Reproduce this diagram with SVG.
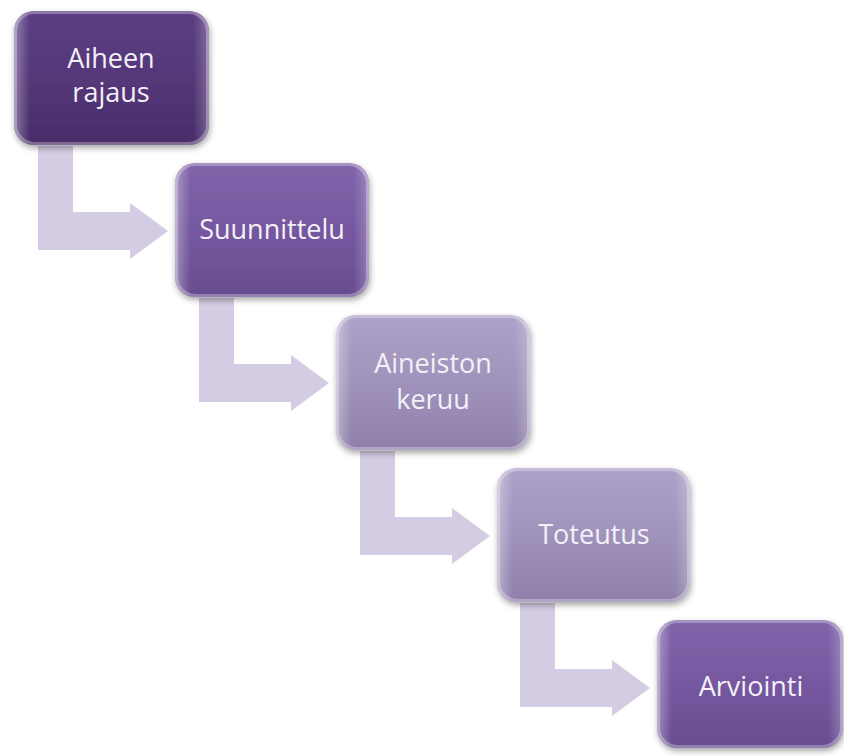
<svg xmlns="http://www.w3.org/2000/svg" width="844" height="756" viewBox="0 0 844 756">
<style>
.lbl{font-family:"Open Sans","Liberation Sans",sans-serif;font-size:27px;fill:#f4f0f8;text-anchor:middle}
.arrow{fill:#d3cce2}
.edge{fill:none;stroke:#ffffff;stroke-opacity:0.3;stroke-width:3}
</style>
<defs>
<linearGradient id="gDark" x1="0" y1="0" x2="0" y2="1">
<stop offset="0" stop-color="#5c3e83"/><stop offset="0.5" stop-color="#553879"/><stop offset="1" stop-color="#482c69"/>
</linearGradient>
<linearGradient id="gMid" x1="0" y1="0" x2="0" y2="1">
<stop offset="0" stop-color="#8064aa"/><stop offset="0.5" stop-color="#7558a0"/><stop offset="1" stop-color="#684c90"/>
</linearGradient>
<linearGradient id="gLight" x1="0" y1="0" x2="0" y2="1">
<stop offset="0" stop-color="#afa2c8"/><stop offset="0.5" stop-color="#a093bb"/><stop offset="1" stop-color="#8f80ab"/>
</linearGradient>
<linearGradient id="gSide" x1="0" y1="0" x2="1" y2="0">
<stop offset="0" stop-color="#ffffff" stop-opacity="0.35"/><stop offset="0.08" stop-color="#ffffff" stop-opacity="0"/><stop offset="0.92" stop-color="#ffffff" stop-opacity="0"/><stop offset="1" stop-color="#ffffff" stop-opacity="0.25"/>
</linearGradient>
<filter id="sh" x="-10%" y="-10%" width="125%" height="130%">
<feDropShadow dx="1" dy="3" stdDeviation="3" flood-color="#000" flood-opacity="0.35"/>
</filter>
</defs>
<g id="connectors">
<path class="arrow" d="M38 146 H73 V212 H130 V203 L168 231 L130 259 V250 H38 Z"/>
<path class="arrow" d="M199 298 H234 V364 H291 V355 L329 383 L291 411 V402 H199 Z"/>
<path class="arrow" d="M360 451 H395 V517 H452 V508 L490 536 L452 564 V555 H360 Z"/>
<path class="arrow" d="M520 603 H555 V669 H612 V660 L650 688 L612 716 V707 H520 Z"/>
</g>
<g id="node1">
<rect x="14" y="11" width="195" height="134" rx="20" fill="url(#gDark)" filter="url(#sh)"/>
<rect x="14" y="11" width="195" height="134" rx="20" fill="url(#gSide)"/>
<rect x="15.5" y="12.5" width="192" height="131" rx="19" class="edge"/>
<text class="lbl" x="111" y="68">Aiheen</text>
<text class="lbl" x="111" y="102">rajaus</text>
</g>
<g id="node2">
<rect x="175" y="163" width="194" height="134" rx="20" fill="url(#gMid)" filter="url(#sh)"/>
<rect x="175" y="163" width="194" height="134" rx="20" fill="url(#gSide)"/>
<rect x="176.5" y="164.5" width="191" height="131" rx="19" class="edge"/>
<text class="lbl" x="272" y="239">Suunnittelu</text>
</g>
<g id="node3">
<rect x="336" y="315" width="194" height="135" rx="20" fill="url(#gLight)" filter="url(#sh)"/>
<rect x="336" y="315" width="194" height="135" rx="20" fill="url(#gSide)"/>
<rect x="337.5" y="316.5" width="191" height="132" rx="19" class="edge"/>
<text class="lbl" x="433" y="373">Aineiston</text>
<text class="lbl" x="433" y="409">keruu</text>
</g>
<g id="node4">
<rect x="497" y="468" width="193" height="134" rx="20" fill="url(#gLight)" filter="url(#sh)"/>
<rect x="497" y="468" width="193" height="134" rx="20" fill="url(#gSide)"/>
<rect x="498.5" y="469.5" width="190" height="131" rx="19" class="edge"/>
<text class="lbl" x="594" y="544">Toteutus</text>
</g>
<g id="node5">
<rect x="657" y="620" width="186" height="128" rx="20" fill="url(#gMid)" filter="url(#sh)"/>
<rect x="657" y="620" width="186" height="128" rx="20" fill="url(#gSide)"/>
<rect x="658.5" y="621.5" width="183" height="125" rx="19" class="edge"/>
<text class="lbl" x="751" y="696">Arviointi</text>
</g>
</svg>
